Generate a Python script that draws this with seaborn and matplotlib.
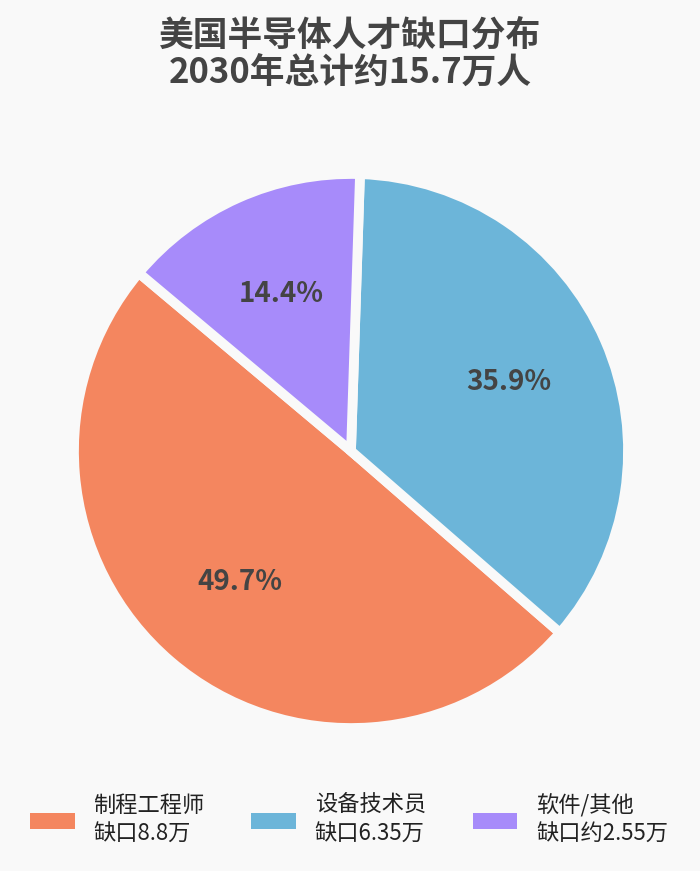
import matplotlib
matplotlib.use("Agg")
import matplotlib.pyplot as plt
import seaborn as sns
from matplotlib.patches import Patch

categories = ["制程工程师\n缺口8.8万", "设备技术员\n缺口6.35万", "软件/其他\n缺口约2.55万"]
values = [8.8, 6.35, 2.55]
colors = ["#F4865F", "#6CB5D9", "#A78BFA"]
title = "美国半导体人才缺口分布\n2030年总计约15.7万人"
bg = "#F9F9F9"

sns.set_theme(style="white")
plt.rcParams['font.family'] = ['Noto Sans CJK SC', 'DejaVu Sans']

W, H = 700, 871
fig = plt.figure(figsize=(W / 100, H / 100), dpi=100, facecolor=bg)

cx, cy, R = 351, 451, 277
ax = fig.add_axes([(cx - R) / W, (H - cy - R) / H, 2 * R / W, 2 * R / H])
ax.set_facecolor(bg)

wedges, texts, autotexts = ax.pie(
    values, colors=colors, startangle=140, counterclock=True,
    autopct="%1.1f%%", pctdistance=0.62, radius=1.0,
    wedgeprops=dict(edgecolor=bg, linewidth=7),
    textprops=dict(fontsize=20, fontweight="bold", color="#444444"),
)
ax.set_xlim(-1, 1)
ax.set_ylim(-1, 1)
ax.set_aspect("equal")
ax.axis("off")

fig.text(0.5, 1 - 18 / H, title, ha="center", va="top", fontsize=25,
         fontweight="bold", color="#444444", linespacing=1.1)

handles = [Patch(facecolor=c, edgecolor="none") for c in colors]
leg = fig.legend(handles, categories, loc="center", bbox_to_anchor=(349 / W, 1 - 820 / H),
                 ncol=3, frameon=False, fontsize=16, handlelength=2.0, handleheight=0.75,
                 handletextpad=0.85, columnspacing=2.1, labelspacing=0.5)
for t in leg.get_texts():
    t.set_color("#222222")
    t.set_linespacing(1.3)

fig.savefig("out.png", dpi=100, facecolor=bg)
